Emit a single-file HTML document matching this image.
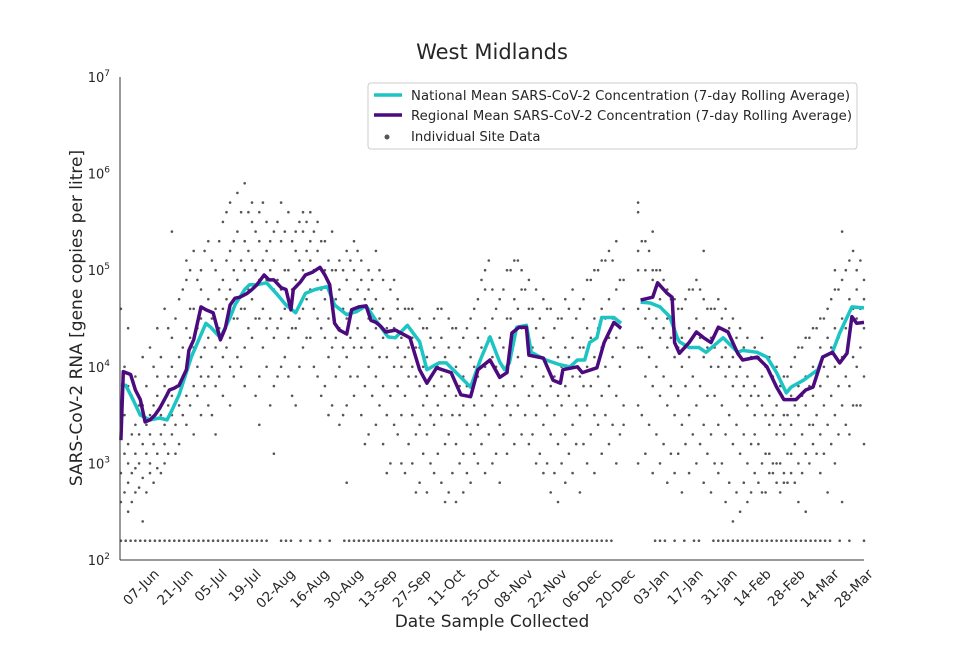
<!DOCTYPE html>
<html><head><meta charset="utf-8"><style>
body{margin:0;background:#fff;font-family:"Liberation Sans","DejaVu Sans",sans-serif}
svg text{font-family:"DejaVu Sans","Liberation Sans",sans-serif;fill:#262626}
</style></head><body>
<svg id="chart" width="960" height="640" xmlns="http://www.w3.org/2000/svg">
<text x="492" y="59" text-anchor="middle" font-size="21">West Midlands</text>
<g id="scatter"></g>
<g id="lines"></g>
<g id="axes"></g>
<text x="492" y="627" text-anchor="middle" font-size="17">Date Sample Collected</text>
<text transform="translate(82,318) rotate(-90)" text-anchor="middle" font-size="17">SARS-CoV-2 RNA [gene copies per litre]</text>
<g>
<rect x="368" y="83" width="489" height="66" fill="#fff" stroke="#ccc" rx="3"/>
<line x1="374" y1="95" x2="402" y2="95" stroke="#1cc4c4" stroke-width="3.5"/>
<text x="411" y="100" font-size="13.2" textLength="439">National Mean SARS-CoV-2 Concentration (7-day Rolling Average)</text>
<line x1="374" y1="115" x2="402" y2="115" stroke="#4b0a7d" stroke-width="3.5"/>
<text x="411" y="120" font-size="13.2" textLength="441">Regional Mean SARS-CoV-2 Concentration (7-day Rolling Average)</text>
<circle cx="387" cy="137" r="2.5" fill="#555"/>
<text x="411" y="141" font-size="13.2">Individual Site Data</text>
</g>
</svg>
<script>
// days relative to 07-Jun; values are log10(gene copies per litre)
const tickLabels=["07-Jun","21-Jun","05-Jul","19-Jul","02-Aug","16-Aug","30-Aug","13-Sep","27-Sep","11-Oct","25-Oct","08-Nov","22-Nov","06-Dec","20-Dec","03-Jan","17-Jan","31-Jan","14-Feb","28-Feb","14-Mar","28-Mar"];
const yTickExps=[2,3,4,5,6,7];
const regionalDays=[-12,-11,-8,-6,-4,-2,0,2,4,7,8,10,12,15,16,18,21,23,26,29,31,33,35,37,40,42,44,47,49,51,54,56,58,59,62,64,67,70,72,74,76,78,81,83,86,89,91,93,95,97,101,107,111,114,118,124,128,132,135,140,144,147,149,152,155,156,162,166,169,170,176,178,184,187,191,194,null,202,207,209,213,215,216,218,222,225,228,231,234,238,242,244,250,254,258,261,266,270,273,277,281,284,287,289,291,294];
const regionalLog=[3.24,3.95,3.92,3.76,3.66,3.43,3.45,3.50,3.57,3.71,3.76,3.78,3.81,3.97,4.17,4.28,4.62,4.59,4.56,4.28,4.40,4.64,4.71,4.72,4.76,4.80,4.85,4.95,4.90,4.90,4.82,4.80,4.59,4.80,4.88,4.95,4.98,5.03,4.95,4.85,4.45,4.38,4.34,4.59,4.62,4.63,4.48,4.46,4.42,4.36,4.38,4.30,3.97,3.83,3.99,3.94,3.71,3.69,3.97,4.07,3.89,3.94,4.35,4.41,4.41,4.12,4.09,3.86,3.83,3.97,4.00,3.94,3.99,4.25,4.46,4.40,null,4.69,4.72,4.87,4.76,4.72,4.25,4.14,4.25,4.36,4.30,4.25,4.41,4.36,4.14,4.07,4.10,4.00,3.79,3.66,3.66,3.76,3.79,4.10,4.15,4.04,4.14,4.52,4.45,4.46];
const nationalDays=[-12,-10,-7,-4,0,4,7,9,12,17,23,25,29,33,35,39,41,44,48,52,56,60,64,68,73,76,81,85,89,93,98,101,106,111,114,119,122,128,132,136,140,144,146,148,151,155,157,163,169,173,176,179,181,184,186,191,194,null,202,206,210,214,217,218,222,226,229,236,242,244,250,254,258,262,264,269,275,277,281,284,289,294];
const nationalLog=[3.81,3.81,3.66,3.50,3.45,3.47,3.45,3.55,3.71,4.10,4.45,4.41,4.30,4.51,4.64,4.80,4.85,4.85,4.87,4.76,4.64,4.56,4.76,4.80,4.83,4.64,4.54,4.57,4.63,4.48,4.31,4.30,4.43,4.26,3.97,4.04,4.04,3.89,3.79,4.07,4.31,4.05,3.97,4.04,4.41,4.43,4.15,4.07,4.02,4.00,4.07,4.07,4.25,4.30,4.51,4.51,4.45,null,4.67,4.66,4.62,4.52,4.31,4.26,4.20,4.20,4.15,4.30,4.15,4.17,4.15,4.10,3.94,3.73,3.79,3.86,3.97,4.10,4.15,4.35,4.62,4.61];
const siteColumns=[
[-12,[3.3,2.9,2.6,4.6,3.6]],[-9,[3.0,2.8,2.5,3.8,4.4,3.2]],[-6,[2.7,3.1,3.4,2.95,3.9]],[-3,[3.2,2.85,3.6,2.4,4.1]],[0,[3.0,3.5,2.9,4.2,3.3]],[3,[3.1,3.7,3.9,2.95,4.4]],[6,[3.4,3.8,3.2,4.6,3.0]],[9,[3.5,4.0,3.3,4.3,3.7,5.4]],[12,[3.8,4.1,3.6,4.7,3.2]],[15,[4.0,4.4,3.7,4.9,3.4,5.1]],[18,[4.2,3.8,4.6,5.2,3.3]],[21,[4.5,4.1,3.9,5.0,4.8,3.5]],[24,[4.3,4.7,3.9,5.3,3.6]],[27,[4.2,4.6,5.0,3.8,3.3]],[30,[4.6,4.9,4.1,5.5,3.7]],[33,[4.8,5.2,4.3,5.7,4.0,3.6]],[36,[4.9,5.4,4.5,5.8,4.1]],[39,[5.0,5.3,4.6,5.9,4.2,3.8]],[42,[5.1,4.7,5.5,5.7,4.3]],[45,[4.9,5.3,4.5,5.6,3.9,3.4]],[48,[4.9,5.2,4.4,5.5,4.0]],[51,[4.8,5.1,4.3,5.4,3.8,3.1]],[54,[4.8,5.3,4.5,5.7,4.0]],[57,[4.7,5.0,4.3,5.6,3.9]],[60,[4.9,5.2,4.4,5.4,3.6]],[63,[5.0,5.4,4.6,5.6,4.2]],[66,[5.1,4.8,5.3,4.3,5.6]],[69,[4.9,5.2,4.5,3.9,5.5]],[72,[4.7,5.0,4.3,3.8,5.3]],[75,[4.6,4.2,5.0,3.6,5.4]],[78,[4.4,4.8,4.0,3.4,5.1]],[81,[4.5,4.9,4.1,3.6,5.2,2.8]],[84,[4.6,5.0,4.2,3.7,5.3]],[87,[4.6,4.9,4.2,3.5,5.1]],[90,[4.5,4.8,4.0,3.3,5.0]],[93,[4.4,4.7,3.9,3.4,5.2]],[96,[4.3,4.6,3.8,3.2,4.9]],[99,[4.3,4.5,3.7,3.0,4.8]],[102,[4.2,4.6,3.8,3.3,4.7]],[105,[4.1,4.4,3.7,2.9,4.6]],[108,[4.0,4.3,3.5,3.0,4.6]],[111,[3.8,4.2,3.4,2.8,4.5]],[114,[3.7,4.1,3.3,2.7,4.4]],[117,[3.8,4.2,3.4,2.9,4.5]],[120,[3.9,4.3,3.5,2.8,4.6]],[123,[3.8,4.2,3.3,2.7,4.5]],[126,[3.7,4.0,3.2,2.6,4.4]],[129,[3.6,3.9,3.1,2.7,4.3]],[132,[3.7,4.1,3.3,2.8,4.5]],[135,[3.9,4.3,3.4,3.0,4.7]],[138,[4.0,4.4,3.5,2.9,4.8,5.0]],[141,[4.1,4.5,3.6,3.0,4.8]],[144,[3.9,4.3,3.4,2.8,4.7]],[147,[4.0,4.5,3.6,3.1,5.0]],[150,[4.3,4.7,3.8,3.2,5.1]],[153,[4.4,4.8,3.9,3.3,5.0]],[156,[4.2,4.6,3.7,3.2,4.9]],[159,[4.0,4.4,3.5,3.0,4.8]],[162,[3.9,4.3,3.4,2.9,4.7]],[165,[3.8,4.2,3.3,2.7,4.6]],[168,[3.7,4.1,3.2,2.6,4.5]],[171,[3.8,4.2,3.3,2.8,4.7]],[174,[3.9,4.3,3.4,2.9,4.8]],[177,[3.9,4.2,3.5,2.7,4.6]],[180,[4.0,4.4,3.6,3.0,4.9]],[183,[4.1,4.5,3.5,2.9,5.0]],[186,[4.2,4.6,3.7,3.1,5.1]],[189,[4.3,4.7,3.8,3.2,5.2]],[192,[4.3,4.8,3.7,3.0,5.3]],[195,[4.2,4.6,3.6,3.4,4.9]],[201,[4.6,5.6,3.6,4.2,3.0,5.2,5.0,5.7]],[204,[4.5,5.0,3.9,3.1,5.3]],[207,[4.4,4.9,3.8,2.9,5.0,5.4]],[210,[4.3,4.7,3.7,3.0,5.0]],[213,[4.2,4.5,3.6,2.8,4.8]],[216,[4.1,4.4,3.5,2.9,4.7]],[219,[4.0,4.3,3.4,2.7,4.6]],[222,[4.1,4.4,3.5,2.9,4.8]],[225,[4.2,4.5,3.6,3.0,4.9]],[228,[4.1,4.4,3.4,2.8,4.7,5.2]],[231,[4.0,4.3,3.3,2.7,4.6]],[234,[4.0,4.4,3.4,2.9,4.7]],[237,[3.9,4.2,3.3,2.6,4.6]],[240,[3.8,4.1,3.2,2.4,4.5]],[243,[3.7,4.0,3.1,2.5,4.4]],[246,[3.6,3.9,3.0,2.6,4.3]],[249,[3.5,3.8,2.9,3.3,4.2]],[252,[3.6,3.9,3.0,2.7,4.3]],[255,[3.4,3.7,2.9,3.1,4.1]],[258,[3.3,3.6,2.8,3.0,4.0]],[261,[3.3,3.5,2.8,2.9,3.9]],[264,[3.4,3.7,2.9,3.1,4.0]],[267,[3.5,3.8,3.0,2.6,4.2]],[270,[3.6,3.9,3.1,2.5,4.3]],[273,[3.7,4.0,3.2,3.4,4.4]],[276,[3.8,4.2,3.3,2.9,4.5]],[279,[3.9,4.3,3.4,2.7,4.6]],[282,[4.0,4.4,3.5,3.0,4.8,5.0]],[285,[4.1,4.5,3.6,2.6,4.9,5.4]],[288,[4.3,4.7,3.8,3.3,5.1]],[291,[4.5,4.8,4.0,3.6,5.0]],[294,[4.4,4.7,3.9,3.2,4.9]]];
const siteColumnsB=[
[-10.5,[3.5,2.7,3.1,4.0]],[-7.5,[2.9,3.3,2.6,3.7]],[-4.5,[3.0,3.6,2.75,3.3]],[-1.5,[3.4,2.7,3.8,3.1]],[1.5,[3.2,2.8,3.6,4.0]],[4.5,[3.5,2.9,4.1,3.3]],[7.5,[3.6,3.1,3.9,4.4]],[10.5,[3.9,3.4,4.5,3.1]],[13.5,[4.2,3.5,3.9,4.8]],[16.5,[4.3,3.6,4.6,5.0]],[19.5,[4.4,3.7,4.0,4.9]],[22.5,[4.6,3.8,4.2,5.2]],[25.5,[4.5,4.0,3.5,5.1]],[28.5,[4.4,4.8,3.9,5.3]],[31.5,[4.7,5.1,4.2,5.6]],[34.5,[5.0,4.5,5.3,3.9]],[37.5,[5.1,4.6,5.6,4.0]],[40.5,[5.2,4.8,5.6,4.4]],[43.5,[5.0,4.5,5.4,3.7]],[46.5,[5.1,4.6,5.7,4.2]],[49.5,[5.0,4.5,5.3,3.6]],[52.5,[4.9,4.4,5.5,3.9]],[55.5,[5.0,4.6,5.4,4.1]],[58.5,[4.8,4.4,5.3,3.7]],[61.5,[5.1,4.5,5.5,4.0]],[64.5,[5.2,4.7,5.5,4.3]],[67.5,[5.0,4.6,5.4,4.0]],[70.5,[4.8,4.4,5.3,3.7]],[73.5,[4.5,4.1,5.1,3.5]],[76.5,[4.3,4.7,3.9,5.0]],[79.5,[4.6,4.2,5.0,3.5]],[82.5,[4.7,4.3,5.1,3.9]],[85.5,[4.4,4.8,3.9,5.2]],[88.5,[4.3,4.7,3.8,3.2]],[91.5,[4.6,4.2,3.7,4.9]],[94.5,[4.5,4.1,3.6,5.0]],[97.5,[4.1,4.4,3.5,2.9]],[100.5,[4.4,4.0,3.4,4.9]],[103.5,[4.0,4.3,3.5,3.0]],[106.5,[4.2,3.9,3.2,4.6]],[109.5,[3.9,4.2,3.3,2.7]],[112.5,[3.6,4.0,3.1,4.4]],[115.5,[3.9,3.5,3.0,4.3]],[118.5,[4.0,3.6,3.1,4.6]],[121.5,[3.7,4.1,3.2,2.6]],[124.5,[3.9,3.5,2.9,4.4]],[127.5,[3.5,3.8,3.0,4.2]],[130.5,[3.8,3.4,2.9,4.4]],[133.5,[4.0,3.6,3.1,4.6]],[136.5,[4.2,3.7,3.2,4.9]],[139.5,[4.3,3.8,3.3,5.1]],[142.5,[4.0,3.7,3.1,4.6]],[145.5,[4.2,3.8,3.3,4.8]],[148.5,[4.5,4.1,3.5,5.0]],[151.5,[4.6,4.1,3.6,5.1]],[154.5,[4.4,4.0,3.5,4.8]],[157.5,[4.2,3.8,3.3,4.6]],[160.5,[4.1,3.7,3.1,4.5]],[163.5,[4.0,3.6,3.0,4.6]],[166.5,[3.9,3.5,2.9,4.4]],[169.5,[4.0,3.6,3.0,4.5]],[172.5,[4.1,3.7,3.1,4.6]],[175.5,[4.0,3.6,3.2,4.5]],[178.5,[4.2,3.8,3.2,4.7]],[181.5,[4.3,3.8,3.3,4.9]],[184.5,[4.4,3.9,3.4,5.0]],[187.5,[4.5,4.0,3.5,5.1]],[190.5,[4.5,4.1,3.4,5.1]],[193.5,[4.4,4.0,3.3,4.9]],[202.5,[4.7,4.2,3.5,5.3]],[205.5,[4.6,4.1,3.4,5.2]],[208.5,[4.5,4.0,3.3,5.0]],[211.5,[4.4,3.9,3.2,4.9]],[214.5,[4.3,3.8,3.1,4.7]],[217.5,[4.2,3.7,3.1,4.6]],[220.5,[4.2,3.8,3.2,4.7]],[223.5,[4.3,3.9,3.3,4.8]],[226.5,[4.3,3.8,3.2,4.8]],[229.5,[4.2,3.7,3.1,4.6]],[232.5,[4.2,3.7,3.0,4.6]],[235.5,[4.1,3.6,3.0,4.5]],[238.5,[4.0,3.5,2.8,4.4]],[241.5,[3.9,3.4,2.7,4.3]],[244.5,[3.8,3.3,2.8,4.2]],[247.5,[3.7,3.2,2.7,4.1]],[250.5,[3.7,3.2,2.8,4.1]],[253.5,[3.5,3.1,2.7,4.0]],[256.5,[3.5,3.0,2.9,3.9]],[259.5,[3.4,3.0,2.7,3.8]],[262.5,[3.5,3.1,2.8,3.9]],[265.5,[3.6,3.2,2.8,4.1]],[268.5,[3.7,3.3,2.9,4.2]],[271.5,[3.8,3.4,3.0,4.3]],[274.5,[3.9,3.5,3.1,4.4]],[277.5,[4.0,3.6,3.1,4.5]],[280.5,[4.2,3.7,3.2,4.7]],[283.5,[4.3,3.8,3.3,4.8]],[286.5,[4.4,3.9,3.4,5.0]],[289.5,[4.6,4.1,3.6,5.2]],[292.5,[4.6,4.2,3.6,5.1]]];
const floorLog=2.2;
const floorDays=[-12,-10,-8,-6,-4,-2,0,2,4,6,8,10,12,14,16,18,20,22,24,26,28,30,32,34,36,38,40,42,44,46,48,54,56,58,62,66,70,74,80,82,84,86,88,90,92,94,96,98,100,102,104,106,108,110,112,114,116,118,120,122,124,126,128,130,132,134,136,138,140,142,144,146,148,150,152,154,156,158,160,162,164,166,168,170,172,174,176,178,180,182,184,186,188,190,208,210,212,216,220,224,226,232,234,236,238,240,242,244,246,248,250,252,254,256,258,260,262,264,266,268,270,272,274,276,278,280,284,288,294];

const NS="http://www.w3.org/2000/svg";
const X0=120,X1=864,Y0=560,Y1=77;
const xOf=d=>150+d*(714/294);
const yOf=l=>Y0-(l-2)*((Y0-Y1)/5);
function mk(t,a,p){const e=document.createElementNS(NS,t);for(const k in a)e.setAttribute(k,a[k]);p.appendChild(e);return e;}

const sc=document.getElementById('scatter');
siteColumns.concat(siteColumnsB).forEach(c=>c[1].forEach(v=>{
  const e=mk('circle',{cx:xOf(c[0]).toFixed(1),cy:yOf(v).toFixed(1),r:1.3,fill:'#555'},sc);
  
  
}));
floorDays.forEach(d=>{
  const e=mk('circle',{cx:xOf(d).toFixed(1),cy:yOf(floorLog).toFixed(1),r:1.3,fill:'#555'},sc);
  
  
});

function pathFor(days,vals){let s='',pen=false;
  for(let i=0;i<days.length;i++){if(days[i]===null){pen=false;continue;}
    s+=(pen?'L':'M')+xOf(days[i]).toFixed(1)+' '+yOf(vals[i]).toFixed(1)+' ';pen=true;}
  return s;}
const ln=document.getElementById('lines');
const nat=mk('path',{d:pathFor(nationalDays,nationalLog),fill:'none',stroke:'#1cc4c4','stroke-width':3.5,'stroke-linejoin':'round'},ln);


const reg=mk('path',{d:pathFor(regionalDays,regionalLog),fill:'none',stroke:'#4b0a7d','stroke-width':3.5,'stroke-linejoin':'round'},ln);



const ax=document.getElementById('axes');
const ys=mk('line',{x1:X0,y1:Y1,x2:X0,y2:Y0,stroke:'#333','stroke-width':1},ax);


const xs=mk('line',{x1:X0,y1:Y0,x2:X1,y2:Y0,stroke:'#333','stroke-width':1},ax);


yTickExps.forEach(p=>{
  const t=mk('text',{x:110,y:yOf(p)+5,'text-anchor':'end','font-size':13},ax);
  
  
  t.textContent='10';
  const s=mk('tspan',{dy:-6,'font-size':9},t);s.textContent=String(p);
});
tickLabels.forEach((lab,i)=>{
  const x=xOf(i*14);
  const t=mk('text',{transform:`translate(${x+3},${Y0+8}) rotate(-45)`,'text-anchor':'end','font-size':13.5,'dominant-baseline':'hanging'},ax);
  
  
  t.textContent=lab;
});
</script>
</body></html>
